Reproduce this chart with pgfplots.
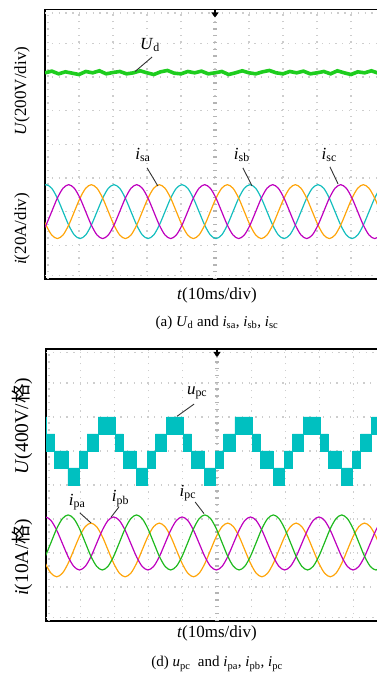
\documentclass[border=0pt]{standalone}
\usepackage{pgfplots}
\pgfplotsset{compat=1.18}
\usepackage{pgfplotstable}
\usepackage{fontspec}
\setmainfont{Liberation Serif}
\newfontfamily\cjk{Noto Sans CJK SC}
\usetikzlibrary{arrows.meta}
\definecolor{cOr}{RGB}{255,165,10}
\definecolor{cCy}{RGB}{20,190,190}
\definecolor{cMa}{RGB}{190,0,190}
\definecolor{cGr}{RGB}{30,205,30}
\definecolor{cGr2}{RGB}{30,185,30}
\definecolor{cUp}{RGB}{0,192,192}
\definecolor{gridc}{RGB}{205,205,205}
\definecolor{ctick}{RGB}{180,180,180}

\pgfplotstableread{
t a b c
-0.137 -2.0 -1.307 -2.693
0.030 -2.4 -1.2 -2.4
0.197 -2.693 -1.307 -2.0
0.363 -2.8 -1.6 -1.6
0.530 -2.693 -2.0 -1.307
0.697 -2.4 -2.4 -1.2
0.863 -2.0 -2.693 -1.307
1.030 -1.6 -2.8 -1.6
1.197 -1.307 -2.693 -2.0
1.363 -1.2 -2.4 -2.4
1.530 -1.307 -2.0 -2.693
1.697 -1.6 -1.6 -2.8
1.863 -2.0 -1.307 -2.693
2.030 -2.4 -1.2 -2.4
2.197 -2.693 -1.307 -2.0
2.363 -2.8 -1.6 -1.6
2.530 -2.693 -2.0 -1.307
2.697 -2.4 -2.4 -1.2
2.863 -2.0 -2.693 -1.307
3.030 -1.6 -2.8 -1.6
3.197 -1.307 -2.693 -2.0
3.363 -1.2 -2.4 -2.4
3.530 -1.307 -2.0 -2.693
3.697 -1.6 -1.6 -2.8
3.863 -2.0 -1.307 -2.693
4.030 -2.4 -1.2 -2.4
4.197 -2.693 -1.307 -2.0
4.363 -2.8 -1.6 -1.6
4.530 -2.693 -2.0 -1.307
4.697 -2.4 -2.4 -1.2
4.863 -2.0 -2.693 -1.307
5.030 -1.6 -2.8 -1.6
5.197 -1.307 -2.693 -2.0
5.363 -1.2 -2.4 -2.4
5.530 -1.307 -2.0 -2.693
5.697 -1.6 -1.6 -2.8
5.863 -2.0 -1.307 -2.693
6.030 -2.4 -1.2 -2.4
6.197 -2.693 -1.307 -2.0
6.363 -2.8 -1.6 -1.6
6.530 -2.693 -2.0 -1.307
6.697 -2.4 -2.4 -1.2
6.863 -2.0 -2.693 -1.307
7.030 -1.6 -2.8 -1.6
7.197 -1.307 -2.693 -2.0
7.363 -1.2 -2.4 -2.4
7.530 -1.307 -2.0 -2.693
7.697 -1.6 -1.6 -2.8
7.863 -2.0 -1.307 -2.693
8.030 -2.4 -1.2 -2.4
8.197 -2.693 -1.307 -2.0
8.363 -2.8 -1.6 -1.6
8.530 -2.693 -2.0 -1.307
8.697 -2.4 -2.4 -1.2
8.863 -2.0 -2.693 -1.307
9.030 -1.6 -2.8 -1.6
9.197 -1.307 -2.693 -2.0
9.363 -1.2 -2.4 -2.4
9.530 -1.307 -2.0 -2.693
9.697 -1.6 -1.6 -2.8
9.863 -2.0 -1.307 -2.693
10.030 -2.4 -1.2 -2.4
}\tabA

\pgfplotstableread{
t a b c
-0.187 -1.91 -1.045 -2.391
-0.020 -2.305 -0.94 -2.095
0.147 -2.594 -1.045 -1.69
0.313 -2.70 -1.33 -1.285
0.480 -2.594 -1.72 -0.989
0.647 -2.305 -2.11 -0.88
0.813 -1.91 -2.395 -0.989
0.980 -1.515 -2.50 -1.285
1.147 -1.226 -2.395 -1.69
1.313 -1.12 -2.11 -2.095
1.480 -1.226 -1.72 -2.391
1.647 -1.515 -1.33 -2.50
1.813 -1.91 -1.045 -2.391
1.980 -2.305 -0.94 -2.095
2.147 -2.594 -1.045 -1.69
2.313 -2.70 -1.33 -1.285
2.480 -2.594 -1.72 -0.989
2.647 -2.305 -2.11 -0.88
2.813 -1.91 -2.395 -0.989
2.980 -1.515 -2.50 -1.285
3.147 -1.226 -2.395 -1.69
3.313 -1.12 -2.11 -2.095
3.480 -1.226 -1.72 -2.391
3.647 -1.515 -1.33 -2.50
3.813 -1.91 -1.045 -2.391
3.980 -2.305 -0.94 -2.095
4.147 -2.594 -1.045 -1.69
4.313 -2.70 -1.33 -1.285
4.480 -2.594 -1.72 -0.989
4.647 -2.305 -2.11 -0.88
4.813 -1.91 -2.395 -0.989
4.980 -1.515 -2.50 -1.285
5.147 -1.226 -2.395 -1.69
5.313 -1.12 -2.11 -2.095
5.480 -1.226 -1.72 -2.391
5.647 -1.515 -1.33 -2.50
5.813 -1.91 -1.045 -2.391
5.980 -2.305 -0.94 -2.095
6.147 -2.594 -1.045 -1.69
6.313 -2.70 -1.33 -1.285
6.480 -2.594 -1.72 -0.989
6.647 -2.305 -2.11 -0.88
6.813 -1.91 -2.395 -0.989
6.980 -1.515 -2.50 -1.285
7.147 -1.226 -2.395 -1.69
7.313 -1.12 -2.11 -2.095
7.480 -1.226 -1.72 -2.391
7.647 -1.515 -1.33 -2.50
7.813 -1.91 -1.045 -2.391
7.980 -2.305 -0.94 -2.095
8.147 -2.594 -1.045 -1.69
8.313 -2.70 -1.33 -1.285
8.480 -2.594 -1.72 -0.989
8.647 -2.305 -2.11 -0.88
8.813 -1.91 -2.395 -0.989
8.980 -1.515 -2.50 -1.285
9.147 -1.226 -2.395 -1.69
9.313 -1.12 -2.11 -2.095
9.480 -1.226 -1.72 -2.391
9.647 -1.515 -1.33 -2.50
9.813 -1.91 -1.045 -2.391
9.980 -2.305 -0.94 -2.095
10.147 -2.594 -1.045 -1.69
}\tabB

\pgfplotsset{osc/.style={
  scale only axis, anchor=south west,
  xmin=0, xmax=10, ymin=-4, ymax=4,
  xtick={1,...,9}, ytick={-3,...,3},
  xticklabels={}, yticklabels={},
  tick style={draw=none},
  grid=major,
  major grid style={gridc, line width=1.3pt, dash pattern=on 1.3pt off 5.45pt},
  axis line style={line width=1.8pt},
}}

\begin{document}
\begin{tikzpicture}
\useasboundingbox (0pt,0pt) rectangle (377pt,675pt);
\clip (0pt,0pt) rectangle (377pt,675pt);
\tikzset{lab/.style={font=\fontsize{17}{20}\selectfont}}

% ---------------- panel (a)
\begin{axis}[osc, at={(45pt,396pt)}, width=340pt, height=269.5pt]
\draw[ctick, line width=4pt, dash pattern=on 1.3pt off 5.44pt] (axis cs:5,-4) -- (axis cs:5,4);
\draw[gridc, line width=1.3pt, dash pattern=on 1.3pt off 5.44pt] (axis cs:0.09,-4) -- (axis cs:0.09,4);
\draw[gridc, line width=1.3pt, dash pattern=on 1.3pt off 5.5pt] (axis cs:0,3.9) -- (axis cs:10,3.9);
\draw[gridc, line width=1.3pt, dash pattern=on 1.3pt off 5.5pt] (axis cs:0,-3.9) -- (axis cs:10,-3.9);
\addplot[cGr, line width=3.6pt] coordinates {
(0,2.12) (0.2,2.17) (0.4,2.09) (0.6,2.15) (0.8,2.11) (1.0,2.07) (1.2,2.16) (1.4,2.12) (1.6,2.18) (1.8,2.09)
(2.0,2.13) (2.2,2.16) (2.4,2.09) (2.6,2.12) (2.8,2.18) (3.0,2.12) (3.2,2.07) (3.4,2.15) (3.6,2.19) (3.8,2.11)
(4.0,2.09) (4.2,2.16) (4.4,2.12) (4.6,2.17) (4.8,2.09) (5.0,2.12) (5.2,2.16) (5.4,2.07) (5.6,2.12) (5.8,2.18)
(6.0,2.12) (6.2,2.09) (6.4,2.15) (6.6,2.19) (6.8,2.12) (7.0,2.09) (7.2,2.16) (7.4,2.12) (7.6,2.17) (7.8,2.09)
(8.0,2.12) (8.2,2.16) (8.4,2.09) (8.6,2.18) (8.8,2.12) (9.0,2.07) (9.2,2.15) (9.4,2.12) (9.6,2.18) (9.8,2.11) (10,2.14)};
\addplot[cCy, line width=1.2pt, smooth] table[x=t, y=b] {\tabA};
\addplot[cOr, line width=1.2pt, smooth] table[x=t, y=a] {\tabA};
\addplot[cMa, line width=1.2pt, smooth] table[x=t, y=c] {\tabA};
\draw[-{Triangle[width=7pt,length=5pt]}, line width=1.3pt] (axis cs:5,4) -- ++(0pt,-8pt);
\draw[line width=0.9pt, black!80] (axis cs:3.15,2.59) -- (axis cs:2.65,2.16);
\node[lab] at (axis cs:3.09,2.95) {\textit{U}\textsubscript{d}};
\draw[line width=0.9pt, black!80] (axis cs:3.0,-0.70) -- (axis cs:3.32,-1.24);
\node[lab] at (axis cs:2.88,-0.32) {\textit{i}\textsubscript{sa}};
\draw[line width=0.9pt, black!80] (axis cs:5.82,-0.70) -- (axis cs:6.09,-1.24);
\node[lab] at (axis cs:5.79,-0.32) {\textit{i}\textsubscript{sb}};
\draw[line width=0.9pt, black!80] (axis cs:8.38,-0.67) -- (axis cs:8.62,-1.18);
\node[lab] at (axis cs:8.36,-0.32) {\textit{i}\textsubscript{sc}};
\end{axis}

% ---------------- panel (d)
\begin{axis}[osc, at={(46pt,54pt)}, width=342pt, height=272pt]
\draw[ctick, line width=4pt, dash pattern=on 1.3pt off 5.5pt] (axis cs:5,-4) -- (axis cs:5,4);
\draw[gridc, line width=1.3pt, dash pattern=on 1.3pt off 5.5pt] (axis cs:0.09,-4) -- (axis cs:0.09,4);
\draw[gridc, line width=1.3pt, dash pattern=on 1.3pt off 5.5pt] (axis cs:0,3.9) -- (axis cs:10,3.9);
\draw[gridc, line width=1.3pt, dash pattern=on 1.3pt off 5.5pt] (axis cs:0,-3.9) -- (axis cs:10,-3.9);
\addplot[draw=cUp, fill=cUp, line width=0.9pt] coordinates {
(-0.5,2.0) (0.025,2.0) (0.025,1.5) (0.260,1.5) (0.260,1.0) (0.642,1.0) (0.642,0.5) (0.966,0.5) (0.966,1.0) (1.201,1.0) (1.201,1.5) (1.525,1.5) (1.525,2.0)
(2.025,2.0) (2.025,1.5) (2.260,1.5) (2.260,1.0) (2.642,1.0) (2.642,0.5) (2.966,0.5) (2.966,1.0) (3.201,1.0) (3.201,1.5) (3.525,1.5) (3.525,2.0)
(4.025,2.0) (4.025,1.5) (4.260,1.5) (4.260,1.0) (4.642,1.0) (4.642,0.5) (4.966,0.5) (4.966,1.0) (5.201,1.0) (5.201,1.5) (5.525,1.5) (5.525,2.0)
(6.025,2.0) (6.025,1.5) (6.260,1.5) (6.260,1.0) (6.642,1.0) (6.642,0.5) (6.966,0.5) (6.966,1.0) (7.201,1.0) (7.201,1.5) (7.525,1.5) (7.525,2.0)
(8.025,2.0) (8.025,1.5) (8.260,1.5) (8.260,1.0) (8.642,1.0) (8.642,0.5) (8.966,0.5) (8.966,1.0) (9.201,1.0) (9.201,1.5) (9.525,1.5) (9.525,2.0)
(10.3,2.0) (10.3,1.5)
(9.525,1.5) (9.525,1.0) (9.201,1.0) (9.201,0.5) (8.966,0.5) (8.966,0) (8.642,0) (8.642,0.5) (8.260,0.5) (8.260,1.0) (8.025,1.0) (8.025,1.5)
(7.525,1.5) (7.525,1.0) (7.201,1.0) (7.201,0.5) (6.966,0.5) (6.966,0) (6.642,0) (6.642,0.5) (6.260,0.5) (6.260,1.0) (6.025,1.0) (6.025,1.5)
(5.525,1.5) (5.525,1.0) (5.201,1.0) (5.201,0.5) (4.966,0.5) (4.966,0) (4.642,0) (4.642,0.5) (4.260,0.5) (4.260,1.0) (4.025,1.0) (4.025,1.5)
(3.525,1.5) (3.525,1.0) (3.201,1.0) (3.201,0.5) (2.966,0.5) (2.966,0) (2.642,0) (2.642,0.5) (2.260,0.5) (2.260,1.0) (2.025,1.0) (2.025,1.5)
(1.525,1.5) (1.525,1.0) (1.201,1.0) (1.201,0.5) (0.966,0.5) (0.966,0) (0.642,0) (0.642,0.5) (0.260,0.5) (0.260,1.0) (0.025,1.0) (0.025,1.5)
(-0.5,1.5)};
\addplot[cOr, line width=1.2pt, smooth] table[x=t, y=a] {\tabB};
\addplot[cMa, line width=1.2pt, smooth] table[x=t, y=b] {\tabB};
\addplot[cGr2, line width=1.2pt, smooth] table[x=t, y=c] {\tabB};
\draw[-{Triangle[width=7pt,length=5pt]}, line width=1.3pt] (axis cs:5,4) -- ++(0pt,-8pt);
\draw[line width=0.9pt, black!80] (axis cs:4.33,2.38) -- (axis cs:3.83,2.02);
\node[lab] at (axis cs:4.42,2.71) {\textit{u}\textsubscript{pc}};
\draw[line width=0.9pt, black!80] (axis cs:0.99,-0.82) -- (axis cs:1.32,-1.12);
\node[lab] at (axis cs:0.91,-0.50) {\textit{i}\textsubscript{pa}};
\draw[line width=0.9pt, black!80] (axis cs:2.13,-0.65) -- (axis cs:1.90,-0.95);
\node[lab] at (axis cs:2.18,-0.40) {\textit{i}\textsubscript{pb}};
\draw[line width=0.9pt, black!80] (axis cs:4.36,-0.50) -- (axis cs:4.62,-0.84);
\node[lab] at (axis cs:4.15,-0.24) {\textit{i}\textsubscript{pc}};
\end{axis}

% ---------------- outer labels
\node[lab, rotate=90] at (22pt,584pt) {\textit{U}(200V/div)};
\node[lab, rotate=90] at (22pt,446pt) {\textit{i}(20A/div)};
\node[lab] at (217pt,380pt) {\textit{t}(10ms/div)};
\node[font=\fontsize{15}{18}\selectfont] at (217pt,352pt) {(a) \textit{U}\textsubscript{d} and \textit{i}\textsubscript{sa}, \textit{i}\textsubscript{sb}, \textit{i}\textsubscript{sc}};
\node[font=\fontsize{19.5}{22}\selectfont, rotate=90] at (22pt,249pt) {\textit{U}(400V/{\cjk 格})};
\node[font=\fontsize{19.5}{22}\selectfont, rotate=90] at (22pt,118pt) {\textit{i}(10A/{\cjk 格})};
\node[lab] at (217pt,42pt) {\textit{t}(10ms/div)};
\node[font=\fontsize{15}{18}\selectfont] at (217pt,11pt) {(d) \textit{u}\textsubscript{pc}\ \ and \textit{i}\textsubscript{pa}, \textit{i}\textsubscript{pb}, \textit{i}\textsubscript{pc}};
\end{tikzpicture}
\end{document}
